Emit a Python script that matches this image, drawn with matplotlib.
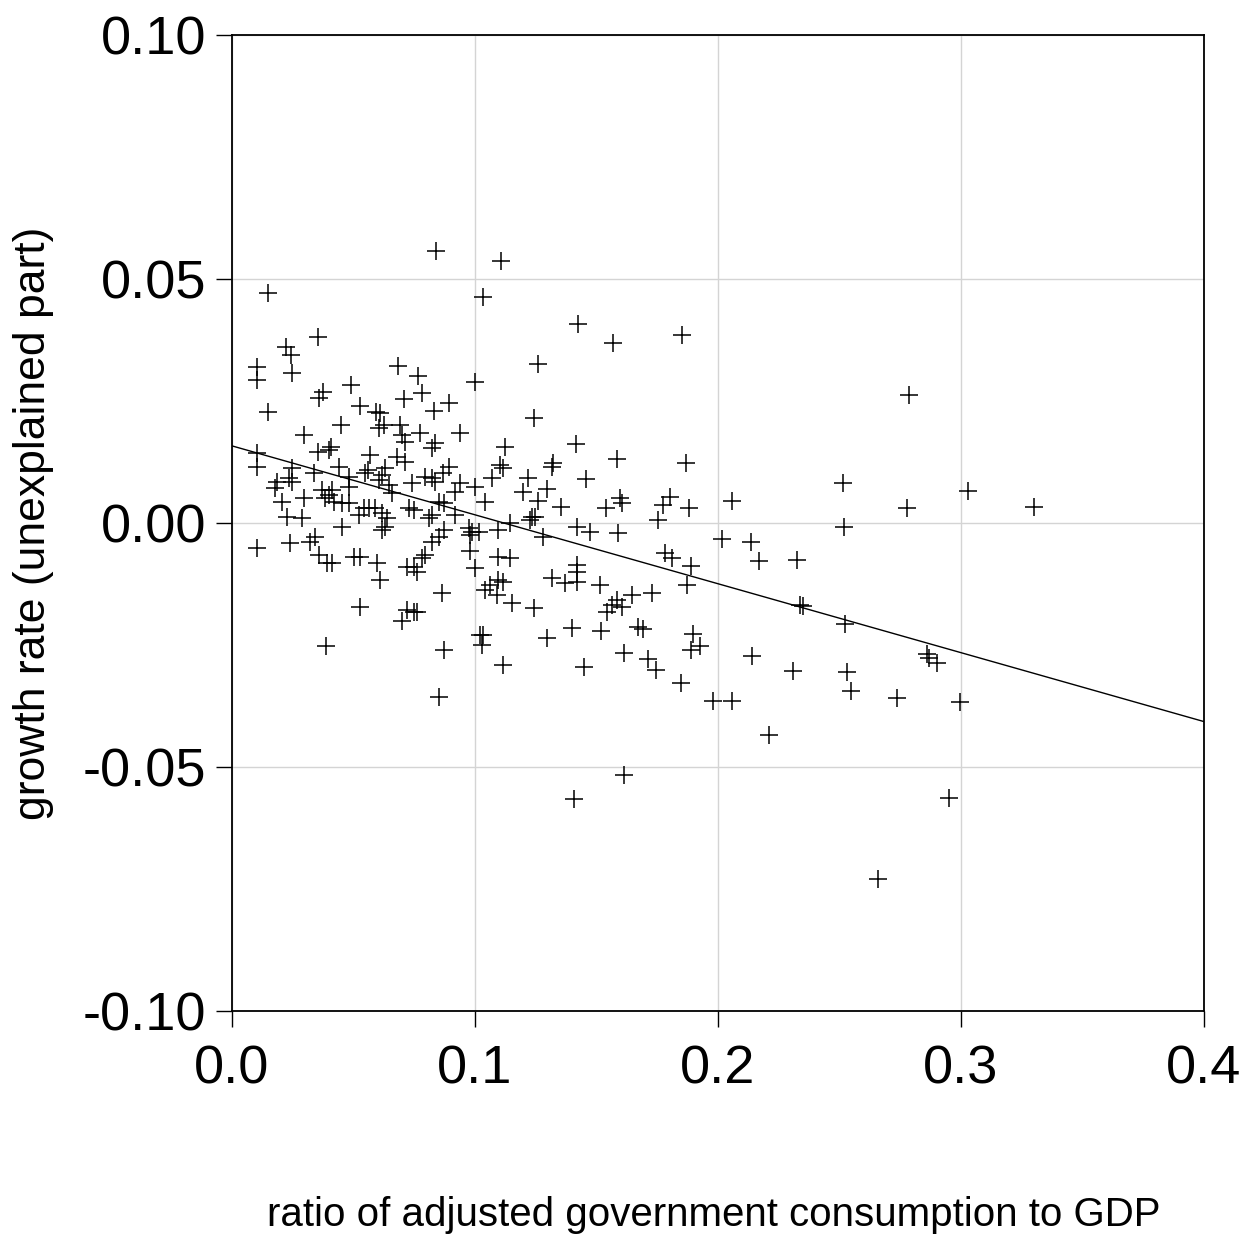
import matplotlib
matplotlib.use('Agg')
import matplotlib.pyplot as plt
from matplotlib.ticker import FormatStrFormatter

plt.rcParams['font.family'] = ['Liberation Sans', 'DejaVu Sans']
plt.rcParams['axes.unicode_minus'] = False

# duomenys: valdzios vartojimo dalis BVP ir nepaaiskinta augimo dalis
gov_ratio = [
    0.0840, 0.0148, 0.0354, 0.0222, 0.0243, 0.0103, 0.0247, 0.0103, 0.0683, 0.0765,
    0.1000, 0.0490, 0.0374, 0.0358, 0.0708, 0.0782, 0.0893, 0.0831, 0.0527, 0.0148,
    0.0593, 0.0609, 0.1107, 0.1033, 0.1424, 0.1568, 0.1852, 0.1259, 0.1243, 0.0449,
    0.0605, 0.0626, 0.0691, 0.0296, 0.0700, 0.0712, 0.0774, 0.0938, 0.0407, 0.0399,
    0.0354, 0.0835, 0.0823, 0.0103, 0.0568, 0.0679, 0.0712, 0.0103, 0.0247, 0.0440,
    0.0560, 0.0630, 0.0617, 0.0893, 0.0868, 0.0235, 0.0185, 0.0247, 0.0337, 0.0481,
    0.0605, 0.0646, 0.0547, 0.0794, 0.0823, 0.0835, 0.0741, 0.0481, 0.0177, 0.0370,
    0.0412, 0.0399, 0.0938, 0.1000, 0.0918, 0.0658, 0.0296, 0.0206, 0.0383, 0.0420,
    0.0453, 0.0481, 0.0872, 0.0852, 0.0728, 0.0749, 0.0564, 0.0543, 0.0588, 0.0617,
    0.0523, 0.0823, 0.0811, 0.0918, 0.0226, 0.0288, 0.0638, 0.0453, 0.0617, 0.0630,
    0.0975, 0.0988, 0.1016, 0.0979, 0.0872, 0.0852, 0.0342, 0.0823, 0.0103, 0.0239,
    0.0321, 0.0979, 0.0358, 0.0502, 0.0527, 0.0794, 0.0782, 0.0391, 0.0412, 0.0597,
    0.0720, 0.0749, 0.0761, 0.1000, 0.0609, 0.0864, 0.0527, 0.0720, 0.0749, 0.0761,
    0.0700, 0.0387, 0.0872, 0.0852,
    0.1123, 0.1416, 0.1584, 0.1868, 0.1103, 0.1115, 0.1321, 0.1317, 0.1070, 0.1218,
    0.1457, 0.1198, 0.1296, 0.1259, 0.1041, 0.1354, 0.1539, 0.1597, 0.1605, 0.1774,
    0.1802, 0.1881, 0.1753, 0.1235, 0.1247, 0.1226, 0.1144, 0.1095, 0.1420, 0.1473,
    0.1588, 0.1280, 0.1095, 0.1144, 0.1782, 0.1811, 0.1889, 0.1420, 0.1420, 0.1420,
    0.1317, 0.1370, 0.1095, 0.1115, 0.1062, 0.1041, 0.1091, 0.1514, 0.1872, 0.1728,
    0.1646, 0.1584, 0.1564, 0.1543, 0.1605, 0.1152, 0.1243, 0.1021, 0.1033, 0.1029,
    0.1115, 0.1296, 0.1399, 0.1519, 0.1449, 0.1613, 0.1671, 0.1691, 0.1712, 0.1745,
    0.1848, 0.1897, 0.1926, 0.1889, 0.1979, 0.1613, 0.1407,
    0.2786, 0.2058, 0.2514, 0.3029, 0.2778, 0.3300, 0.2519, 0.2016, 0.2136, 0.2169,
    0.2325, 0.2337, 0.2350, 0.2523, 0.2140, 0.2309, 0.2531, 0.2547, 0.2860, 0.2868,
    0.2901, 0.2058, 0.2737, 0.2996, 0.2210, 0.2951, 0.2658,
]
growth_resid = [
    0.0557, 0.0471, 0.0381, 0.0361, 0.0344, 0.0320, 0.0307, 0.0293, 0.0322, 0.0301,
    0.0289, 0.0283, 0.0268, 0.0256, 0.0254, 0.0266, 0.0246, 0.0230, 0.0240, 0.0227,
    0.0227, 0.0225, 0.0537, 0.0463, 0.0408, 0.0369, 0.0385, 0.0326, 0.0215, 0.0201,
    0.0195, 0.0201, 0.0201, 0.0180, 0.0180, 0.0166, 0.0184, 0.0184, 0.0156, 0.0150,
    0.0145, 0.0164, 0.0154, 0.0143, 0.0139, 0.0135, 0.0125, 0.0115, 0.0113, 0.0115,
    0.0109, 0.0113, 0.0098, 0.0115, 0.0102, 0.0092, 0.0084, 0.0084, 0.0102, 0.0094,
    0.0088, 0.0078, 0.0102, 0.0094, 0.0092, 0.0084, 0.0082, 0.0074, 0.0072, 0.0068,
    0.0068, 0.0057, 0.0082, 0.0074, 0.0064, 0.0061, 0.0051, 0.0043, 0.0051, 0.0043,
    0.0041, 0.0041, 0.0041, 0.0043, 0.0031, 0.0027, 0.0031, 0.0031, 0.0031, 0.0020,
    0.0016, 0.0016, 0.0010, 0.0016, 0.0012, 0.0010, 0.0010, -0.0008, -0.0014, -0.0008,
    -0.0010, -0.0018, -0.0018, -0.0025, -0.0014, -0.0029, -0.0029, -0.0039, -0.0051, -0.0041,
    -0.0039, -0.0057, -0.0066, -0.0070, -0.0070, -0.0066, -0.0072, -0.0082, -0.0082, -0.0082,
    -0.0090, -0.0090, -0.0100, -0.0092, -0.0117, -0.0143, -0.0172, -0.0178, -0.0182, -0.0182,
    -0.0201, -0.0252, -0.0260, -0.0357,
    0.0156, 0.0162, 0.0131, 0.0123, 0.0119, 0.0113, 0.0123, 0.0115, 0.0092, 0.0092,
    0.0090, 0.0064, 0.0070, 0.0045, 0.0043, 0.0033, 0.0031, 0.0051, 0.0041, 0.0037,
    0.0053, 0.0031, 0.0006, 0.0012, 0.0012, 0.0006, 0.0000, -0.0014, -0.0008, -0.0018,
    -0.0020, -0.0029, -0.0070, -0.0072, -0.0061, -0.0072, -0.0088, -0.0086, -0.0100, -0.0121,
    -0.0113, -0.0123, -0.0117, -0.0121, -0.0127, -0.0137, -0.0148, -0.0127, -0.0127, -0.0143,
    -0.0148, -0.0158, -0.0168, -0.0182, -0.0172, -0.0164, -0.0174, -0.0230, -0.0230, -0.0250,
    -0.0291, -0.0236, -0.0215, -0.0221, -0.0295, -0.0266, -0.0213, -0.0217, -0.0279, -0.0301,
    -0.0328, -0.0227, -0.0252, -0.0260, -0.0365, -0.0516, -0.0566,
    0.0262, 0.0045, 0.0082, 0.0066, 0.0031, 0.0033, -0.0008, -0.0033, -0.0039, -0.0078,
    -0.0076, -0.0168, -0.0170, -0.0207, -0.0273, -0.0303, -0.0305, -0.0344, -0.0268, -0.0277,
    -0.0287, -0.0365, -0.0359, -0.0367, -0.0434, -0.0564, -0.0730,
]

# regresijos tieses galai (nuskaityti nuo grafiko)
fit_x = [0.0, 0.4]
fit_y = [0.0158, -0.0407]

x_ticks = [0.0, 0.1, 0.2, 0.3, 0.4]
y_ticks = [-0.10, -0.05, 0.00, 0.05, 0.10]

fig = plt.figure(figsize=(12.59, 12.38), dpi=100)
ax = fig.add_axes([0.1843, 0.1834, 0.7720, 0.7883])

ax.plot(gov_ratio, growth_resid, linestyle='none', marker='+', color='black',
        markersize=13, markeredgewidth=1.1, zorder=3)
ax.plot(fit_x, fit_y, color='black', linewidth=1.0, zorder=3)

ax.set_xlim(0.0, 0.4)
ax.set_ylim(-0.10, 0.10)
ax.set_xticks(x_ticks)
ax.set_yticks(y_ticks)
ax.xaxis.set_major_formatter(FormatStrFormatter('%.1f'))
ax.yaxis.set_major_formatter(FormatStrFormatter('%.2f'))
ax.grid(True, color='#d4d4d4', linewidth=1.0, zorder=0)
ax.set_axisbelow(True)

ax.tick_params(direction='out', length=11.5, width=1.0, labelsize=39, pad=7)
ax.tick_params(axis='x', pad=13)
for s in ax.spines.values():
    s.set_linewidth(1.3)

ax.set_xlabel('ratio of adjusted government consumption to GDP', fontsize=29)
ax.xaxis.set_label_coords(0.496, -0.1895)
ax.set_ylabel('growth rate (unexplained part)', fontsize=32)
ax.yaxis.set_label_coords(-0.183, 0.5)

plt.savefig('out.png', dpi=100)
